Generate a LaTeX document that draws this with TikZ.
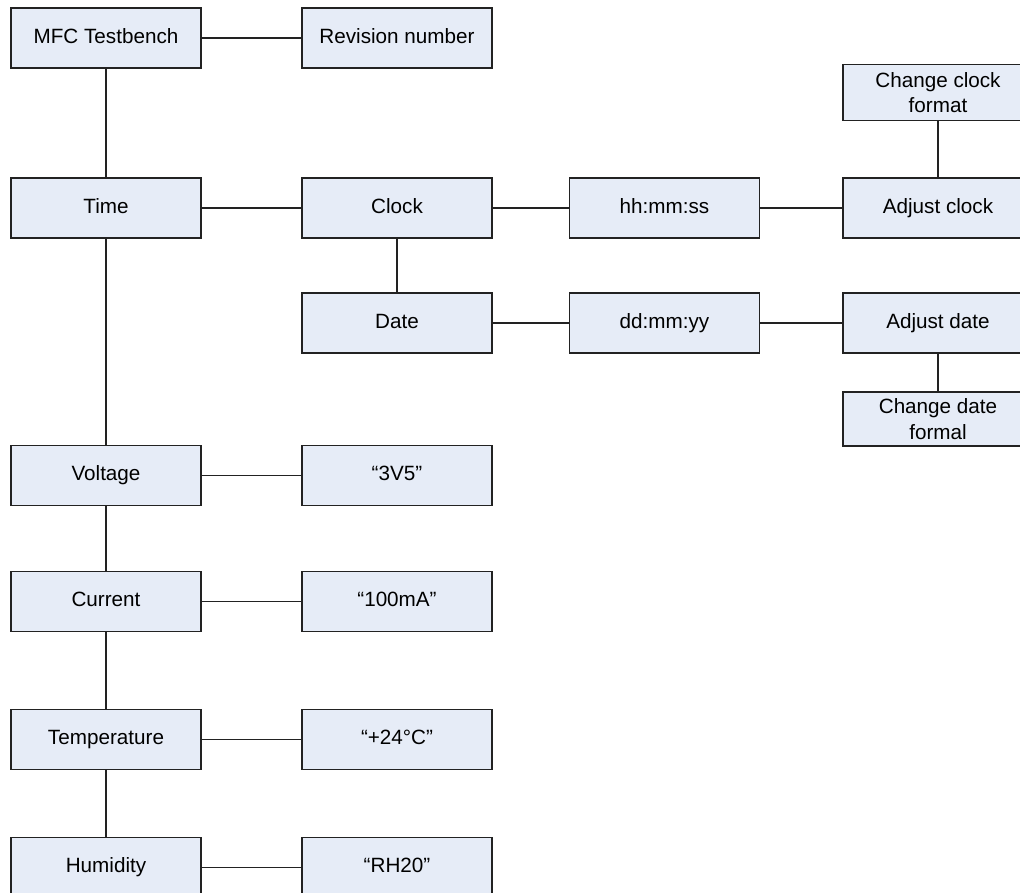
\documentclass[tikz,border=0pt]{standalone}
\usepackage{fontspec}
\setmainfont{Liberation Sans}
\definecolor{boxfill}{RGB}{230,236,247}
\definecolor{boxline}{RGB}{34,34,34}
\begin{document}
\begin{tikzpicture}[x=0.75pt,y=-0.75pt,
  menubox/.style={draw=boxline,fill=boxfill,line width=1.4pt,
    minimum width=142.5pt,minimum height=45pt,inner sep=0pt,
    text height=11.5pt,text depth=3.5pt,
    align=center,font=\fontsize{15.5}{17}\selectfont},
  tallbox/.style={menubox,minimum height=42pt,text height={},text depth={},
    font=\fontsize{15.5}{19}\selectfont},
  link/.style={draw=boxline,line width=1.2pt}]
\useasboundingbox (0,0) rectangle (1020,892);
\clip (0,0) rectangle (1020,892);
\fill[white] (0,0) rectangle (1020,892);

% left column: main menu entries
\node[menubox] (mfc)   at (106,38)    {MFC Testbench};
\node[menubox] (time)  at (106,208)   {Time};
\node[menubox] (volt)  at (106,475.5) {Voltage};
\node[menubox] (curr)  at (106,601.5) {Current};
\node[menubox] (temp)  at (106,739.5) {Temperature};
\node[menubox] (humid) at (106,867.5) {Humidity};

% second column: values and submenus
\node[menubox] (rev)   at (397,38)    {Revision number};
\node[menubox] (clock) at (397,208)   {Clock};
\node[menubox] (date)  at (397,323)   {Date};
\node[menubox] (v3v5)  at (397,475.5) {“3V5”};
\node[menubox] (ma)    at (397,601.5) {“100mA”};
\node[menubox] (deg)   at (397,739.5) {“+24°C”};
\node[menubox] (rh)    at (397,867.5) {“RH20”};

% third column: display formats
\node[menubox] (hms)   at (664.5,208) {hh:mm:ss};
\node[menubox] (dmy)   at (664.5,323) {dd:mm:yy};

% fourth column: adjustments
\node[menubox] (adjc)  at (938,208)   {Adjust clock};
\node[menubox] (adjd)  at (938,323)   {Adjust date};
\node[tallbox] (fmtc)  at (938,92.5)  {Change clock\\format};
\node[tallbox,minimum height=41pt] (fmtd) at (938,419) {Change date\\formal};

% connectors
\draw[link] (mfc) -- (rev);
\draw[link] (mfc) -- (time);
\draw[link] (time) -- (clock);
\draw[link] (clock) -- (hms);
\draw[link] (hms) -- (adjc);
\draw[link] (adjc) -- (fmtc);
\draw[link] (clock) -- (date);
\draw[link] (date) -- (dmy);
\draw[link] (dmy) -- (adjd);
\draw[link] (adjd) -- (fmtd);
\draw[link] (time) -- (volt);
\draw[link] (volt) -- (v3v5);
\draw[link] (volt) -- (curr);
\draw[link] (curr) -- (ma);
\draw[link] (curr) -- (temp);
\draw[link] (temp) -- (deg);
\draw[link] (temp) -- (humid);
\draw[link] (humid) -- (rh);
\end{tikzpicture}
\end{document}
